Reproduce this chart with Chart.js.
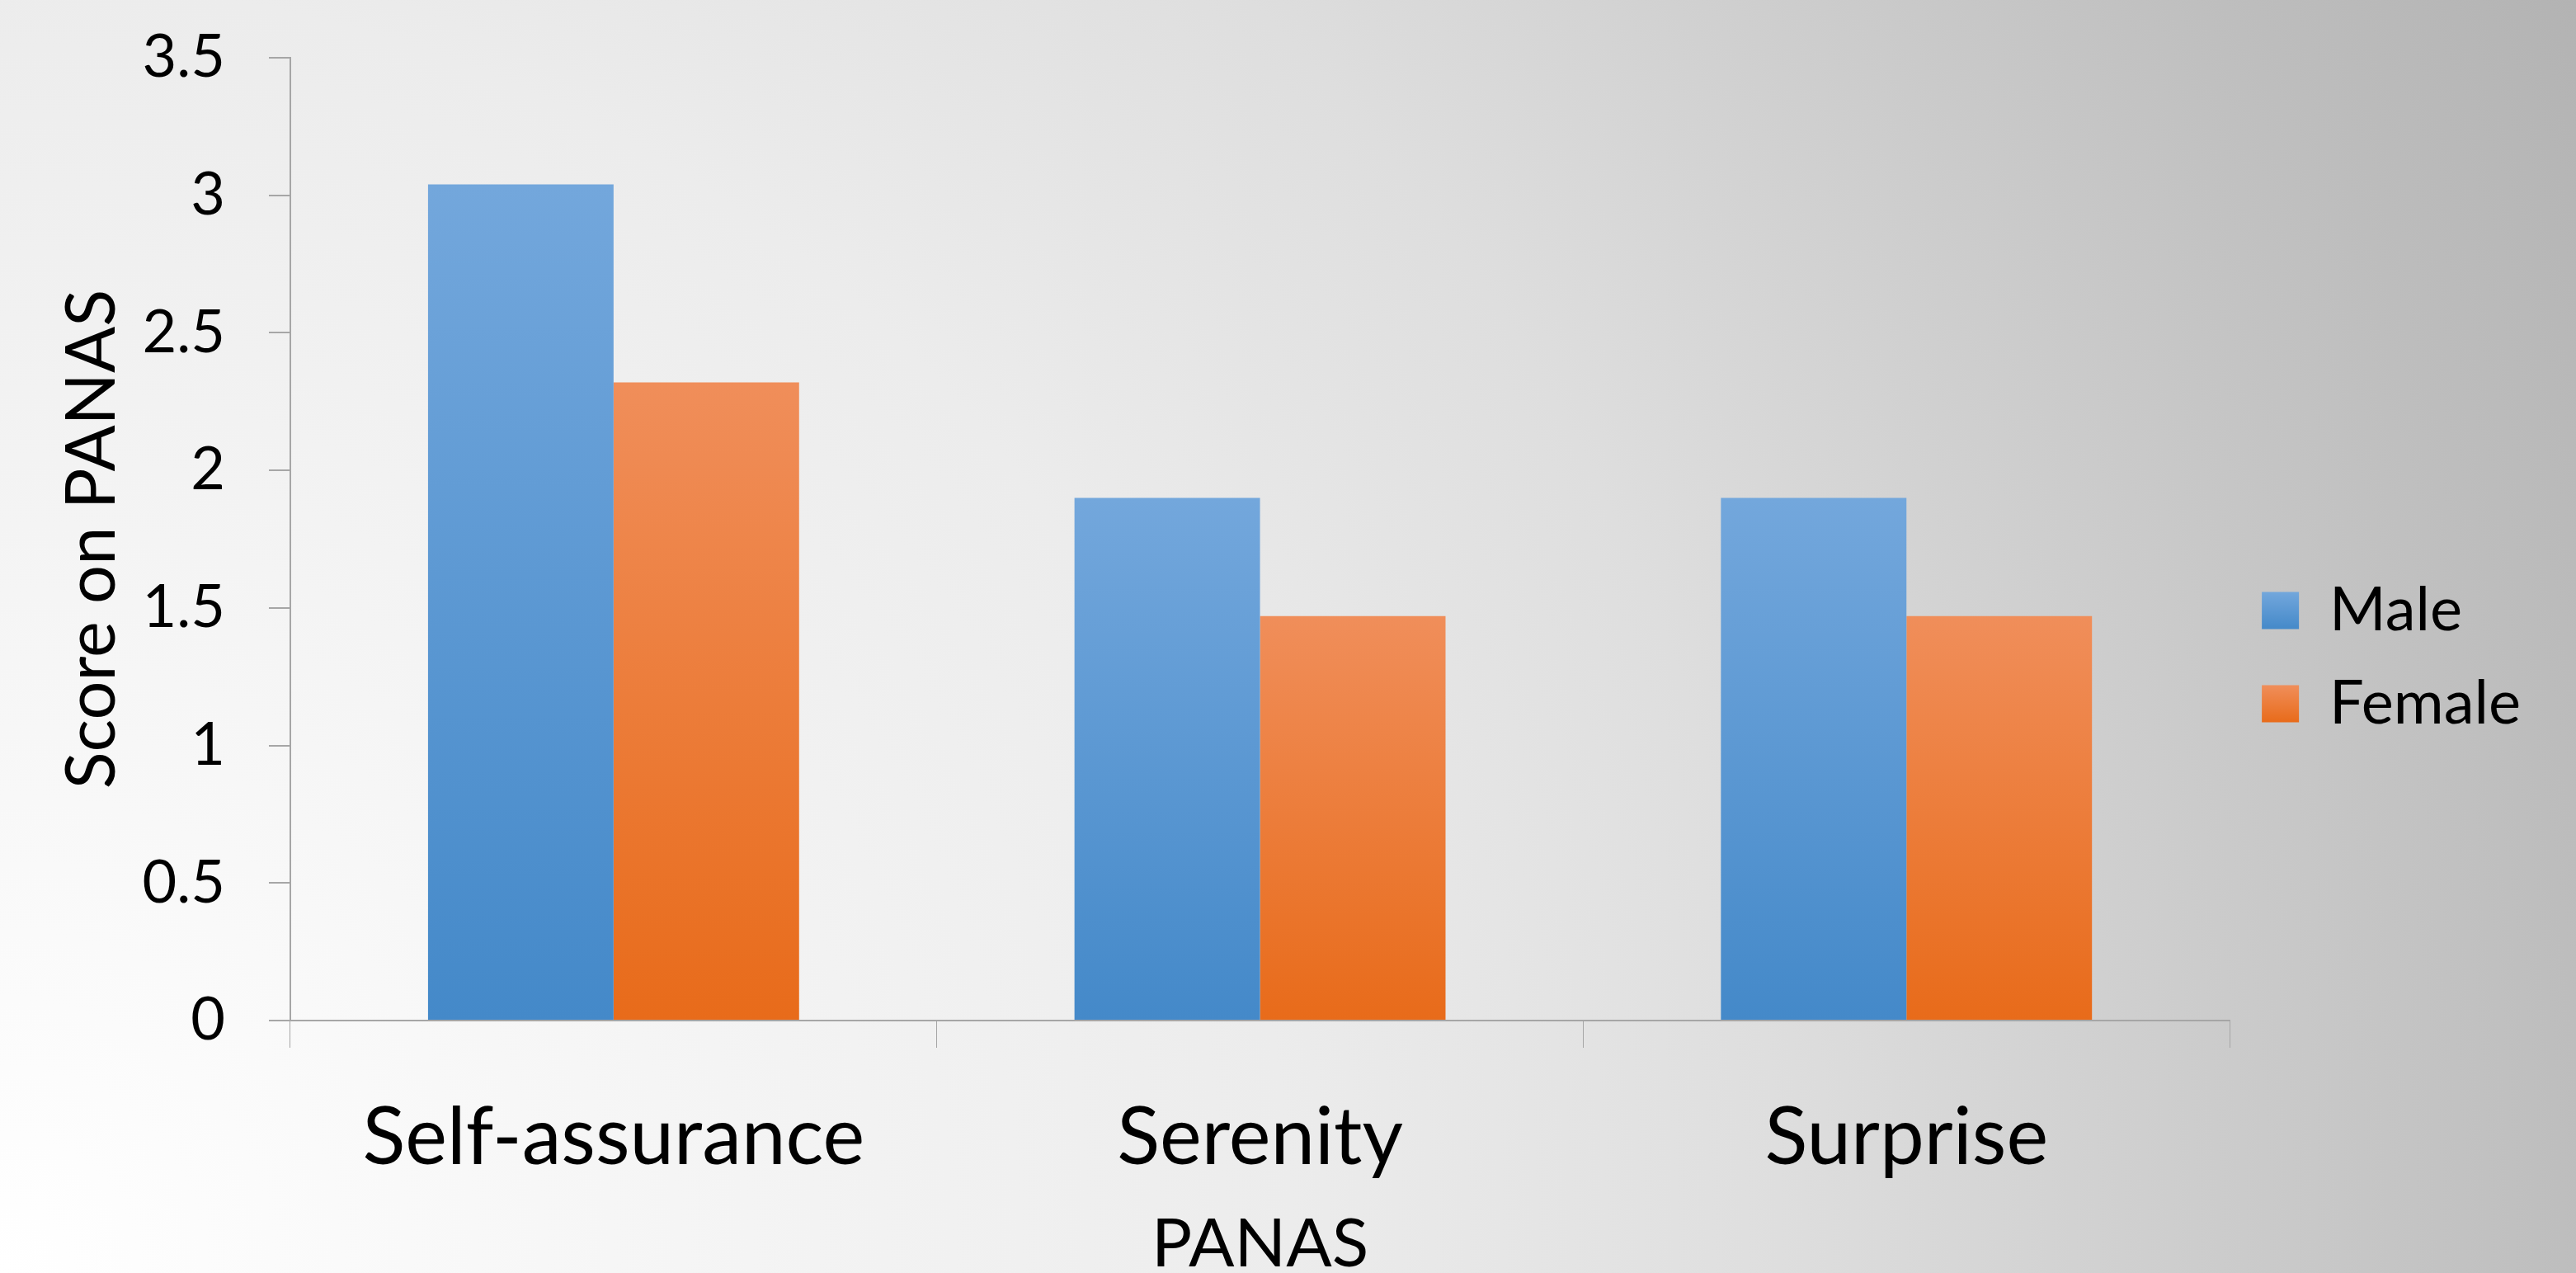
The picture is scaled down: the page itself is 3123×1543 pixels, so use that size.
<!DOCTYPE html>
<html>
<head>
<meta charset="utf-8">
<script src="https://cdn.jsdelivr.net/npm/chart.js@4"></script>
<style>
  html, body { margin: 0; padding: 0; }
  body {
    width: 3123px; height: 1543px; overflow: hidden;
    background: radial-gradient(circle farthest-corner at 0% 100%, #ffffff 0%, #ececec 45%, #dedede 62%, #bdbdbd 90%, #b3b3b3 100%);
  }
  #panasChart { display: block; }
</style>
</head>
<body>
<canvas id="panasChart" width="3123" height="1543"></canvas>
<script>
// data
const categories = ["Self-assurance", "Serenity", "Surprise"];
const maleScores = [3.04, 1.90, 1.90];
const femaleScores = [2.32, 1.47, 1.47];
const yTickValues = [0, 0.5, 1, 1.5, 2, 2.5, 3, 3.5];

const FONT = "Lato, 'Open Sans', sans-serif";
const AXIS_GREY = "#a6a6a6";

const colors = {
  male: { top: "#73a7dc", bottom: "#4489c9", flat: "#5b9bd5" },
  female: { top: "#f08e5a", bottom: "#e86b1a", flat: "#ed7d31" }
};

// each bar gets its own top-to-bottom gradient
function barFill(key) {
  return function(c) {
    const chart = c.chart;
    if (!chart.chartArea || c.type !== "data") return colors[key].flat;
    const y = chart.scales.y;
    const top = y.getPixelForValue(c.raw);
    const base = y.getPixelForValue(0);
    const g = chart.ctx.createLinearGradient(0, top, 0, base);
    g.addColorStop(0, colors[key].top);
    g.addColorStop(1, colors[key].bottom);
    return g;
  };
}

// legend boxes get the same gradient as the bars
const legendGradient = {
  id: "legendGradient",
  beforeDraw(chart) {
    const lg = chart.legend;
    if (!lg || !lg.legendItems || !lg.legendHitBoxes) return;
    const lab = lg.options.labels;
    const fs = lab.font.size;
    lg.legendItems.forEach((item, i) => {
      const hb = lg.legendHitBoxes[i];
      if (!hb) return;
      const key = i === 0 ? "male" : "female";
      const t = hb.top + Math.max((fs - lab.boxHeight) / 2, 0);
      const g = chart.ctx.createLinearGradient(0, t, 0, t + lab.boxHeight);
      g.addColorStop(0, colors[key].top);
      g.addColorStop(1, colors[key].bottom);
      item.fillStyle = g;
    });
  }
};

// the legend is centred on the full height; the reference has it ~10px higher
const legendNudge = {
  id: "legendNudge",
  afterLayout(chart) {
    if (chart.legend) { chart.legend.top -= 10; chart.legend.bottom -= 10; }
  }
};

new Chart(document.getElementById("panasChart"), {
  type: "bar",
  data: {
    labels: categories,
    datasets: [
      { label: "Male", data: maleScores, backgroundColor: barFill("male"), borderWidth: 0 },
      { label: "Female", data: femaleScores, backgroundColor: barFill("female"), borderWidth: 0 }
    ]
  },
  options: {
    responsive: false,
    animation: false,
    devicePixelRatio: 1,
    categoryPercentage: 0.574,
    barPercentage: 1.0,
    layout: { padding: { left: 0, right: 57, top: 70, bottom: 0 } },
    plugins: {
      tooltip: { enabled: false },
      legend: {
        position: "right",
        align: "center",
        labels: {
          color: "#000",
          font: { family: FONT, size: 74 },
          boxWidth: 45,
          boxHeight: 45,
          padding: 39
        }
      }
    },
    scales: {
      x: {
        afterFit: s => { s.height = 306; },
        grid: { display: true, drawOnChartArea: false, drawTicks: true, tickLength: 33, offset: true, color: AXIS_GREY, lineWidth: 1 },
        border: { display: true, color: AXIS_GREY, width: 2 },
        ticks: { color: "#000", font: { family: FONT, size: 96 }, padding: 52, maxRotation: 0, autoSkip: false },
        title: {
          display: true, text: "PANAS", color: "#000",
          font: { family: FONT, size: 82, lineHeight: 0.8 },
          padding: { top: 0, bottom: 2 }
        }
      },
      y: {
        min: 0,
        max: 3.5,
        afterFit: s => { s.width = 352; s.paddingTop = 0; s.paddingBottom = 0; },
        afterBuildTicks: s => { s.ticks = yTickValues.map(v => ({ value: v })); },
        grid: { display: true, drawOnChartArea: false, drawTicks: true, tickLength: 26, color: AXIS_GREY, lineWidth: 2 },
        border: { display: true, color: AXIS_GREY, width: 2 },
        ticks: { color: "#000", font: { family: FONT, size: 72 }, padding: 53, callback: v => String(v) },
        title: {
          display: true, text: "Score on PANAS", color: "#000",
          font: { family: FONT, size: 83 },
          padding: { top: 62, bottom: 0 }
        }
      }
    }
  },
  plugins: [legendGradient, legendNudge]
});
</script>
</body>
</html>
